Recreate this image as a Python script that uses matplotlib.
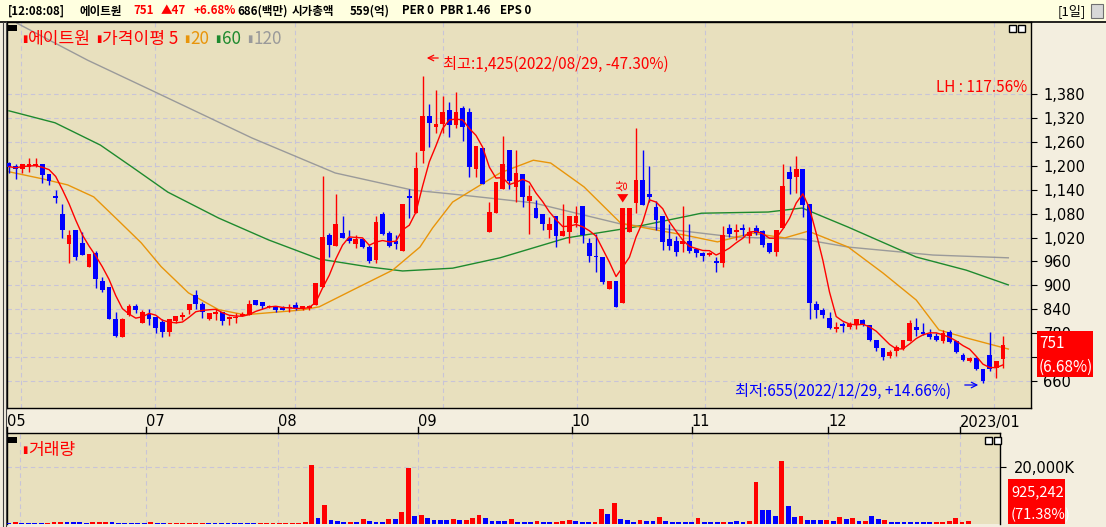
import matplotlib
matplotlib.use("Agg")
import matplotlib.pyplot as plt
import matplotlib.transforms as mtransforms
import numpy as np
import pandas as pd
from matplotlib.patches import Rectangle

plt.rcParams['font.family'] = ['Noto Sans CJK KR', 'DejaVu Sans']

# ---------------- data ----------------
opens = [1206,1199,1192,1198,1199,1204,1179,1124,1079,1004,1040,1007,945,980,912,895,815,771,826,848,
         806,828,820,809,784,811,820,837,876,853,815,828,834,815,817,823,826,863,857,845,
         847,842,842,851,842,842,851,895,1026,999,1032,1020,1004,1016,995,964,1079,1032,1010,987,
         1124,1081,1238,1325,1298,1306,1340,1302,1346,1335,1193,1244,1035,1082,1143,1239,1147,1179,1112,1095,
         1079,1040,1074,1024,1035,1057,1099,1007,974,972,890,912,856,1034,1107,1164,1129,1096,1074,1015,
         1012,1004,1012,990,982,976,962,955,1043,1034,1045,1024,1045,1037,1007,984,1043,1185,1172,1193,
         1104,853,837,818,790,803,795,801,813,801,763,743,723,734,740,759,795,784,778,773,
         759,784,759,726,709,717,690,726,692,715]
highs = [1210,1204,1204,1219,1219,1204,1179,1139,1104,1040,1040,1035,979,985,920,895,834,817,852,852,
         837,840,820,815,815,823,834,853,887,859,831,840,834,822,830,832,862,863,857,851,
         848,847,853,857,848,851,907,1174,1032,1129,1074,1040,1026,1016,1001,1074,1085,1037,1026,1104,
         1141,1235,1425,1355,1390,1375,1361,1386,1350,1344,1249,1244,1110,1160,1274,1239,1239,1179,1152,1114,
         1079,1072,1074,1104,1074,1099,1099,1018,1030,972,912,912,1093,1093,1294,1239,1199,1112,1074,1054,
         1024,1099,1054,993,984,984,972,1049,1055,1054,1054,1047,1051,1040,1007,1040,1204,1199,1224,1193,
         1104,861,843,832,809,809,807,815,815,801,763,743,737,751,762,813,818,805,790,780,
         787,787,759,730,720,720,690,782,711,774]
lows = [1183,1168,1181,1185,1196,1158,1152,1106,1020,955,964,976,945,893,884,815,771,771,823,830,
        806,801,780,771,773,805,813,828,840,817,813,813,801,801,806,822,826,851,840,842,
        834,837,834,838,838,838,851,895,970,999,1018,1007,993,993,957,955,1026,995,990,987,
        1068,1081,1208,1246,1283,1283,1273,1295,1263,1172,1172,1154,1035,1082,1143,1143,1110,1097,1030,1068,
        1040,1020,995,1024,1005,1047,1005,959,934,903,890,845,856,1034,1082,1101,1110,1039,989,989,
        974,984,982,970,962,974,934,947,1022,1014,1024,1007,1026,995,982,974,1043,1129,1132,1072,
        815,817,818,790,782,784,790,790,797,759,734,712,717,723,737,759,772,776,765,759,
        755,755,730,709,707,688,655,686,667,692]
closes = [1198,1192,1204,1204,1204,1177,1163,1118,1040,1026,972,976,979,916,888,815,773,815,848,837,
          832,816,792,784,815,822,826,853,852,832,830,832,811,820,821,828,853,851,848,848,
          837,838,845,842,847,848,907,1022,1001,1054,1020,1010,1016,995,962,1060,1029,999,1004,1104,
          1118,1194,1325,1308,1306,1335,1302,1335,1298,1198,1249,1154,1085,1160,1204,1162,1182,1122,1124,1068,
          1054,1054,1024,1037,1074,1074,1026,974,970,909,912,845,1093,1093,1164,1101,1122,1065,1009,999,
          984,1010,987,982,974,982,955,1026,1030,1040,1040,1034,1032,1001,984,1040,1149,1166,1193,1101,
          856,838,826,793,795,797,803,815,801,762,743,720,732,745,762,805,788,778,770,762,
          780,757,732,712,717,690,659,690,711,751]

volume_k = [360,710,360,360,360,360,360,710,710,710,710,710,360,710,710,710,710,360,360,360,
            360,360,710,360,360,360,360,360,360,360,360,360,360,360,360,360,360,360,360,360,
            360,360,360,360,360,360,710,20700,2020,6780,1430,950,710,710,710,1790,1070,710,710,1790,
            1790,4280,19640,2860,3210,2140,1430,1430,1430,1790,1430,1430,2140,3210,2140,1070,1070,1070,1790,710,
            710,710,950,710,710,710,1070,1430,1070,710,710,710,5360,3570,7500,1790,1430,710,1430,1070,
            1070,2500,1070,710,710,710,710,2140,710,710,710,710,710,1070,710,1070,14760,5000,5000,2860,
            22130,6430,2500,2860,1430,1430,1430,1430,1070,2500,1790,2140,1070,1070,2860,1790,1430,710,710,710,
            710,710,710,710,710,710,1070,2140,710,925]
volume_up = [0,1,0,0,0,0,1,1,1,0,0,0,0,1,1,1,0,0,0,0,
             0,0,1,0,0,1,1,1,1,1,1,0,0,0,0,0,0,0,0,1,
             1,1,1,1,1,1,1,1,0,1,0,0,0,1,0,1,0,0,0,1,
             0,1,1,0,1,0,0,0,0,1,0,1,1,1,0,0,0,0,1,0,
             0,0,1,0,0,1,1,1,0,0,0,1,1,0,1,0,0,0,1,0,
             0,1,0,0,0,0,0,1,0,0,0,1,0,0,0,1,1,0,0,0,
             1,0,0,1,0,0,0,1,0,1,0,1,0,1,0,0,1,0,0,0,
             0,0,0,0,1,1,1,1,1,1]

# moving averages (index, price)
ma20_idx = [0,5.1,8.8,12.7,16.3,19.8,22.8,26.9,31.4,35.3,43.9,46.5,51.5,57.5,61.6,63.5,66.5,73.6,78.6,81.2,86.2,91.7,96.3,101.3,106.2,111.4,116.3,119.8,125.8,131,136,139.4,143.5,149.8]
ma20_val = [1185,1167,1152,1122,1064,1007,947,881,839,826,838,846,888,938,996,1044,1109,1182,1214,1207,1147,1056,1041,1026,1009,1031,1019,1036,996,931,863,788,768,740]
ma60_idx = [0,6.9,13.7,18.7,23.8,31.4,38.9,46.5,54,59,66.5,73.6,83.6,93.7,103.8,113.8,118.9,125.8,136,143.5,149.8]
ma60_val = [1338,1308,1252,1194,1134,1069,1014,966,946,936,943,969,1019,1046,1081,1084,1094,1046,971,938,901]
ma120_idx = [1.2,11.8,21.3,36.4,48.9,60.5,66.5,78.6,91.7,98.7,108.8,118.9,125.8,138.5,149.8]
ma120_val = [1558,1465,1390,1270,1182,1139,1129,1107,1054,1041,1021,1016,996,976,969]

price_ticks = [660,720,780,840,900,960,1020,1080,1140,1200,1260,1320,1380]
month_labels = ['05','07','08','09','10','11','12','2023/01']
month_idx_main = [1.8,21.9,42.9,65.1,85.2,104.4,126.4,147.7]
month_idx_vol = [-0.3,21.3,41.8,63.5,87.4,106,127.2,147.7]

# ---------------- figure ----------------
W, H = 1106, 527
fig = plt.figure(figsize=(W/100, H/100), dpi=100)
fig.patch.set_facecolor('#F3EEDF')

def rect(x0, y0, x1, y1):
    return [x0/W, 1-y1/H, (x1-x0)/W, (y1-y0)/H]

def fx(x): return x/W
def fy(y): return 1-y/H

BG = '#E8E0BE'
RED = '#FF0000'
BLUE = '#0000FF'
GRID = '#C8C4D8'

# header
fig.patches.append(Rectangle((0, fy(21)), 1, 21/H, transform=fig.transFigure,
                             facecolor='#FFFFE0', edgecolor='none', zorder=0))
fig.add_artist(plt.Line2D([0,1],[fy(21.5),fy(21.5)], color='black', lw=1.2))
hdr = [(8,'[12:08:08]','black'),(80,'에이트원','black'),(133,'751',RED),(161,'▲47',RED),
       (193,'+6.68%',RED),(237,'686(백만)','black'),(292,'시가총액','black'),(350,'559(억)','black'),
       (402,'PER 0','black'),(440,'PBR 1.46','black'),(500,'EPS 0','black')]
for x, t, c in hdr:
    fig.text(fx(x), fy(11), t, color=c, fontsize=8.3, va='center', ha='left', fontweight='bold')
fig.text(fx(1086), fy(11), '[1일]', fontsize=9.5, va='center', ha='right')
fig.patches.append(Rectangle((fx(1091), fy(18)), 12/W, 14/H, transform=fig.transFigure,
                             facecolor='#D8D8D8', edgecolor='#707070', lw=0.8))

for xx in (2.5, 5.5):
    fig.add_artist(plt.Line2D([fx(xx), fx(xx)], [0, fy(22)], color='#404040', lw=0.8))

# ---------------- main axes ----------------
ax = fig.add_axes(rect(7, 22, 1031, 408))
ax.set_facecolor(BG)
n = len(closes)
idx = np.arange(n)
o = np.array(opens); c = np.array(closes); hi = np.array(highs); lo = np.array(lows)
up = c >= o
cols = np.where(up, RED, BLUE)
ax.vlines(idx, lo, hi, colors=cols, lw=1, zorder=3)
bottoms = np.minimum(o, c)
heights = np.maximum(np.abs(c - o), 2.5)
ax.bar(idx, heights, bottom=bottoms, width=0.72, color=cols, edgecolor=cols, lw=0, zorder=4)

ma5 = pd.Series(closes).rolling(5, min_periods=1).mean()
ax.plot(ma120_idx, ma120_val, color='#9A9A9A', lw=1, zorder=2)
ax.plot(ma60_idx, ma60_val, color='#1E8A2E', lw=1, zorder=2)
ax.plot(ma20_idx, ma20_val, color='#E8950A', lw=1, zorder=2)
ax.plot(idx, ma5, color=RED, lw=1, zorder=5)

ax.set_xlim(-0.3, 153.2)
ax.set_ylim(592, 1561)
ax.set_xticks([]); ax.yaxis.tick_right()
ax.set_yticks(price_ticks)
ax.set_yticklabels([f'{v:,}' for v in price_ticks], fontsize=10.5, family='DejaVu Sans')
ax.tick_params(axis='y', length=4, pad=5, color='black')
for v in price_ticks:
    ax.axhline(v, color=GRID, lw=0.8, ls=(0, (4, 3)), zorder=1)
for m in month_idx_main:
    ax.axvline(m, color=GRID, lw=0.8, ls=(0, (4, 3)), zorder=1)
for s in ax.spines.values():
    s.set_color('black'); s.set_linewidth(1)

# legend
fig.patches.append(Rectangle((fx(8), fy(31)), 9/W, 6/H, transform=fig.transFigure, facecolor='black'))
leg = [(22,'▮',RED,7),(28,'에이트원',RED,12.3),(96,'▮',RED,7),(102,'가격이평 5',RED,12.3),
       (184,'▮','#E8950A',7),(190,'20','#E8950A',12.3),(215,'▮','#1E8A2E',7),(222,'60','#1E8A2E',12.3),
       (247,'▮','#9A9A9A',7),(253,'120','#9A9A9A',12.3)]
for x, t, col, fs in leg:
    fig.text(fx(x), fy(39), t, color=col, fontsize=fs, va='center', ha='left')

for xx in (1009, 1018):
    fig.patches.append(Rectangle((fx(xx), fy(32)), 7/W, 7/H, transform=fig.transFigure,
                                 facecolor='white', edgecolor='black', lw=1))

# annotations
imax = int(np.argmax(hi)); imin = int(np.argmin(lo))
ax.annotate('', xy=(424/W, fy(58)), xytext=(441/W, fy(58)), xycoords='figure fraction',
            arrowprops=dict(arrowstyle='->', color=RED, lw=0.9))
fig.text(fx(443), fy(64), f'최고:{highs[imax]:,}(2022/08/29, -47.30%)', color=RED, fontsize=11, va='center')
fig.text(fx(735), fy(391), f'최저:{lows[imin]:,}(2022/12/29, +14.66%)', color=BLUE, fontsize=11, va='center')
ax.annotate('', xy=(981/W, fy(385)), xytext=(962/W, fy(385)), xycoords='figure fraction',
            arrowprops=dict(arrowstyle='->', color=BLUE, lw=0.9))
fig.text(fx(1027), fy(87), 'LH : 117.56%', color=RED, fontsize=11, va='center', ha='right')
ax.annotate('', xy=(92, highs[92] + 8), xytext=(92, highs[92] + 35),
            arrowprops=dict(arrowstyle='simple,head_width=0.8,head_length=0.6', color=RED, lw=0))
ax.text(92, highs[92] + 58, '상', color=RED, fontsize=9, ha='center', va='center', rotation=90)

box = Rectangle((fx(1037), fy(377)), 56/W, 46/H, transform=fig.transFigure,
                facecolor=RED, edgecolor='none', zorder=5)
fig.add_artist(box)
fig.text(fx(1039), fy(344), f'{closes[-1]}', color='white', fontsize=11, va='center', zorder=6)
fig.text(fx(1039), fy(367), '(6.68%)', color='white', fontsize=11, va='center', zorder=6)

# ---------------- volume axes ----------------
av = fig.add_axes(rect(7, 433, 1000, 524))
av.set_facecolor(BG)
vcols = [RED if u else BLUE for u in volume_up]
av.bar(idx, volume_k, width=0.75, color=vcols, lw=0, zorder=3)
av.set_xlim(-0.31, 153.9)
av.set_ylim(0, 31900)
av.set_xticks([])
av.yaxis.tick_right()
av.set_yticks([20000]); av.set_yticklabels(['20,000K'], fontsize=10.5, family='DejaVu Sans')
av.tick_params(axis='y', length=4, pad=6)
av.axhline(20000, color=GRID, lw=0.8, ls=(0, (4, 3)))
for m in month_idx_vol[1:]:
    av.axvline(m, color=GRID, lw=0.8, ls=(0, (4, 3)), zorder=1)
av.axvline(1.7, color=GRID, lw=0.8, ls=(0, (4, 3)), zorder=1)
for s in av.spines.values():
    s.set_color('black'); s.set_linewidth(1)
av.spines['bottom'].set_visible(False)
fig.patches.append(Rectangle((fx(8), fy(443)), 9/W, 6/H, transform=fig.transFigure, facecolor='black'))
fig.text(fx(22), fy(450), '▮', color=RED, fontsize=7, va='center')
fig.text(fx(28), fy(450), '거래량', color=RED, fontsize=12.3, va='center')
for xx in (985, 994):
    fig.patches.append(Rectangle((fx(xx), fy(444)), 7/W, 7/H, transform=fig.transFigure,
                                 facecolor='white', edgecolor='black', lw=1))
fig.add_artist(Rectangle((fx(1008), fy(524)), 57/W, 45/H, transform=fig.transFigure,
                         facecolor=RED, edgecolor='none', zorder=5))
fig.text(fx(1011), fy(492), '925,242', color='white', fontsize=10.5, va='center', zorder=6)
fig.text(fx(1011), fy(515), '(71.38%)', color='white', fontsize=10.5, va='center', zorder=6)

tr = mtransforms.blended_transform_factory(av.transData, fig.transFigure)
for m, lab in zip(month_idx_vol, month_labels):
    fig.add_artist(plt.Line2D([m, m], [fy(433), fy(427)], transform=tr, color='black', lw=1))
    fig.text(m, fy(422), lab, transform=tr, fontsize=10.5, ha='left', va='center', family='DejaVu Sans')

fig.savefig('out.png', dpi=100, facecolor=fig.get_facecolor())
